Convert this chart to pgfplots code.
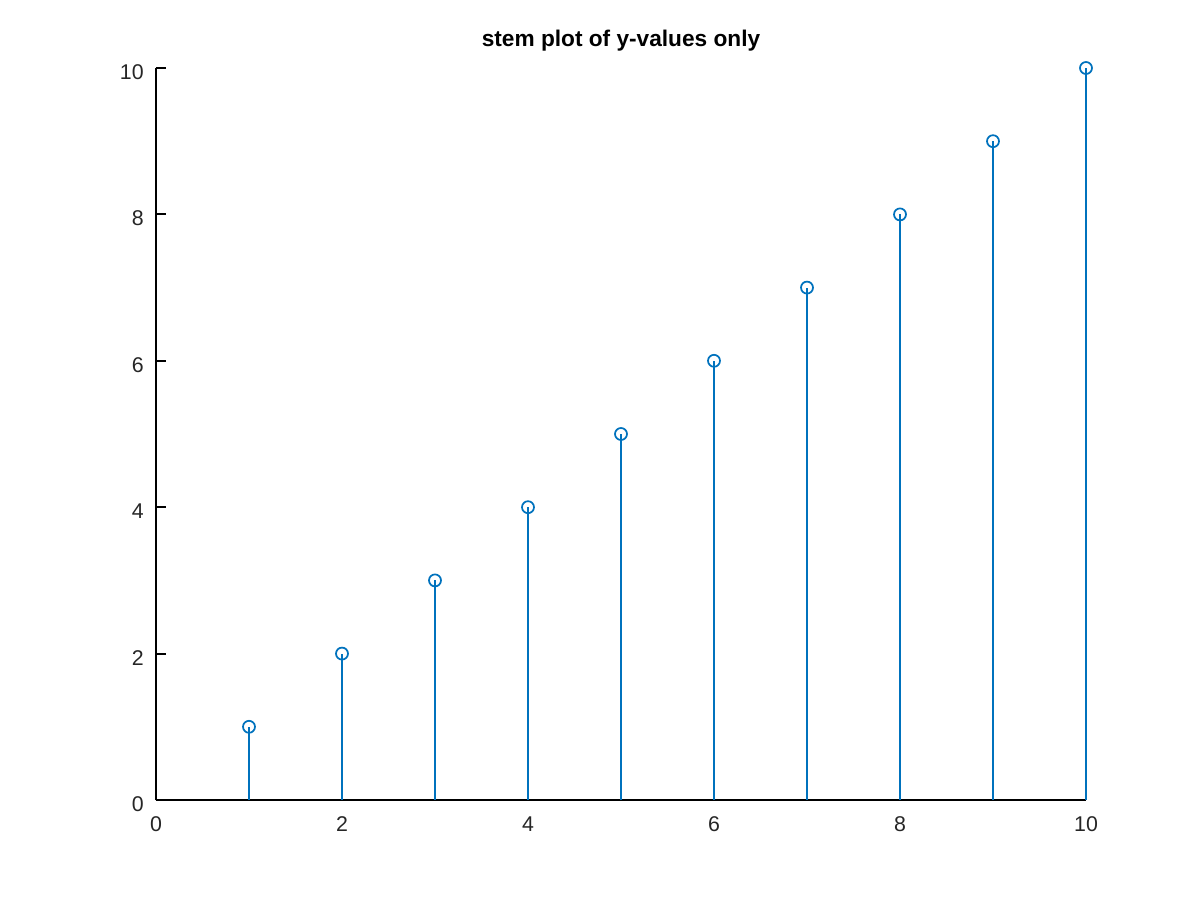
\documentclass[border=0pt]{standalone}
\usepackage{pgfplots}
\pgfplotsset{compat=1.18}
\usepackage{fontspec}
\setmainfont{Liberation Sans}
\definecolor{octblue}{rgb}{0,0.447,0.741}
\definecolor{octgray}{rgb}{0.15,0.15,0.15}
\begin{document}
\begin{tikzpicture}
\path[use as bounding box] (-117pt,-75pt) rectangle (783pt,600pt);
\begin{axis}[
  at={(0,0)}, anchor=south west,
  scale only axis,
  width=697.5pt, height=549pt,
  xmin=0, xmax=10, ymin=0, ymax=10,
  xtick={0,2,...,10}, ytick={0,2,...,10},
  axis lines*=left,
  axis line style={line width=1.4pt, black, -},
  tick style={line width=1.4pt, black},
  tick align=inside,
  major tick length=7.5pt,
  /pgf/number format/assume math mode=true,
  ticklabel style={font=\fontsize{16}{19}\selectfont, text=octgray},
  xticklabel style={yshift=-9pt},
  yticklabel style={xshift=-5.75pt, yshift=-3pt},
  title={stem plot of y-values only},
  title style={font=\fontsize{17}{20}\bfseries, at={(0.5,1)}, anchor=base, yshift=9.75pt},
  clip=false,
]
\addplot[ycomb, color=octblue, line width=1.3pt, mark=o, mark size=4.5pt, mark options={line width=1.3pt}]
coordinates {(1,1) (2,2) (3,3) (4,4) (5,5) (6,6) (7,7) (8,8) (9,9) (10,10)};
\end{axis}
\end{tikzpicture}
\end{document}
